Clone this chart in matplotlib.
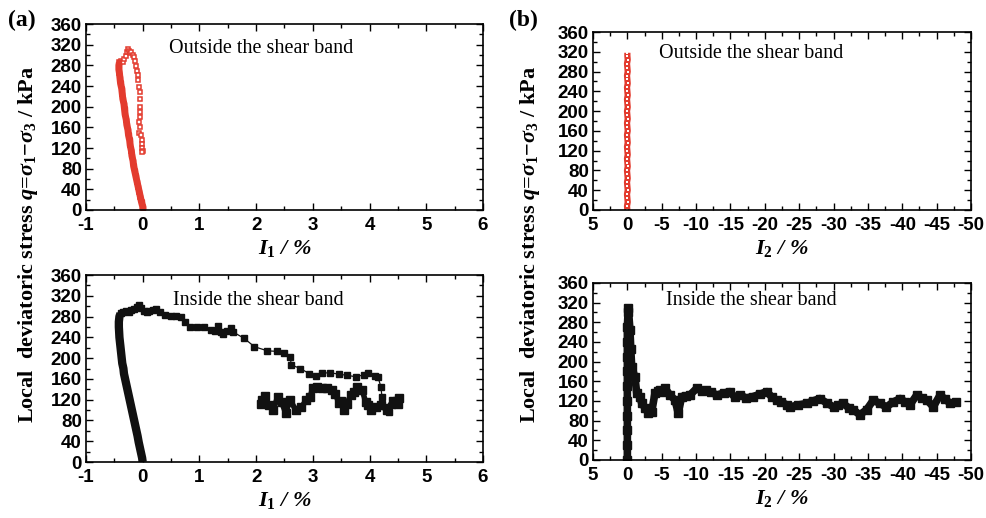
import numpy as np
import matplotlib.pyplot as plt
from matplotlib.ticker import MultipleLocator

plt.rcParams['mathtext.fontset'] = 'custom'
plt.rcParams['mathtext.rm'] = 'Liberation Serif:bold'
plt.rcParams['mathtext.it'] = 'Liberation Serif:italic:bold'
plt.rcParams['mathtext.bf'] = 'Liberation Serif:bold'
plt.rcParams['axes.unicode_minus'] = False

# --- data ---

# (a) outside the shear band, I1 (%) vs q (kPa)
out_i1 = [0.0, 0.005, -0.02, -0.04, -0.06, -0.08, -0.1, -0.12, -0.14, -0.16, -0.17, -0.19,
          -0.2, -0.22, -0.23, -0.25, -0.26, -0.28, -0.29, -0.31, -0.32, -0.33, -0.35, -0.36,
          -0.37, -0.39, -0.4, -0.41, -0.42, -0.42, -0.41, -0.38, -0.35, -0.33, -0.3, -0.28,
          -0.26, -0.24, -0.22, -0.2, -0.17, -0.15, -0.13, -0.12, -0.1, -0.09, -0.08, -0.06,
          -0.05, -0.04, -0.04, -0.05, -0.04, -0.06, -0.05, -0.06, -0.03, -0.02, -0.01, -0.02,
          0.0, -0.01]
out_q1 = [0, 5, 15, 25, 35, 45, 55, 65, 75, 85, 95, 105,
          115, 125, 135, 145, 155, 165, 175, 185, 195, 205, 215, 225,
          235, 245, 255, 265, 272, 280, 286, 288, 287, 292, 298, 305,
          312, 308, 303, 306, 300, 296, 288, 278, 270, 262, 252, 238,
          228, 215, 200, 190, 180, 170, 160, 150, 145, 135, 128, 120,
          115, 112]

# (a) inside the shear band
in_i1 = [0.0, -0.01, -0.03, -0.05, -0.07, -0.09, -0.11, -0.13, -0.15, -0.17, -0.19, -0.21,
         -0.23, -0.25, -0.27, -0.29, -0.31, -0.33, -0.34, -0.36, -0.37, -0.38, -0.39, -0.4,
         -0.41, -0.415, -0.42, -0.42, -0.41, -0.39, -0.35, -0.3, -0.25, -0.2, -0.15, -0.1,
         -0.07, -0.03, 0.02, 0.07, 0.12, 0.18, 0.24, 0.3, 0.39, 0.5, 0.59, 0.68,
         0.75, 0.83, 0.95, 1.09, 1.2, 1.28, 1.33, 1.38, 1.41, 1.48, 1.55, 1.6,
         1.79, 1.97, 2.2, 2.37, 2.5, 2.6, 2.62, 2.78, 2.94, 3.05, 3.17, 3.3,
         3.46, 3.6, 3.76, 3.9, 3.98, 4.1, 4.15, 4.2, 4.22, 4.29, 4.34, 4.4,
         4.46, 4.52, 4.5, 4.42, 4.3, 4.2, 4.11, 4.03, 3.98, 3.93, 3.87, 3.78,
         3.72, 3.67, 3.6, 3.55, 3.5, 3.46, 3.4, 3.34, 3.25, 3.17, 3.08, 3.0,
         2.95, 2.88, 2.8, 2.7, 2.6, 2.52, 2.45, 2.38, 2.3, 2.22, 2.15, 2.1, 2.08]
in_q1 = [0, 8, 18, 28, 38, 50, 60, 70, 80, 90, 100, 110,
         120, 130, 140, 150, 160, 170, 180, 190, 200, 210, 220, 230,
         240, 250, 260, 270, 280, 286, 288, 290, 289, 292, 295, 298,
         303, 296, 290, 288, 291, 293, 295, 288, 283, 281, 282, 279,
         270, 260, 259, 259, 254, 252, 262, 250, 247, 253, 258, 250,
         238, 222, 214, 213, 210, 203, 187, 180, 170, 166, 171, 172,
         169, 167, 164, 168, 171, 166, 163, 145, 125, 106, 97, 110,
         119, 123, 112, 118, 100, 110, 106, 100, 110, 116, 139, 145,
         135, 129, 112, 100, 118, 114, 130, 139, 142, 142, 145, 142,
         125, 119, 105, 100, 119, 95, 115, 125, 100, 110, 128, 120, 112]

# (b) outside the shear band, I2 (%) vs q (kPa)
out_i2 = [0.0, 0.05, -0.05, 0.0, 0.05, -0.05, 0.0, 0.05, -0.05, 0.0, 0.05, -0.05,
          0.0, 0.05, -0.05, 0.0, 0.05, -0.05, 0.0, 0.05, -0.05, 0.0, 0.05, -0.05,
          0.0, 0.05, -0.05, 0.0, 0.05, -0.05, 0.0, 0.05, -0.05, 0.0, 0.05, -0.05,
          0.0, 0.05, -0.05, 0.0, 0.0]
out_q2 = [0, 8, 16, 24, 32, 40, 48, 56, 64, 72, 80, 88,
          96, 104, 112, 120, 128, 136, 144, 152, 160, 168, 176, 184,
          192, 200, 208, 216, 224, 232, 240, 248, 256, 264, 272, 280,
          288, 296, 304, 312, 318]

# (b) inside the shear band
in_i2 = [0.0, 0.0, 0.0, 0.0, 0.0, 0.0, 0.0, 0.0, 0.0, 0.0, -0.1, -0.14,
         -0.38, -0.5, -0.63, -1.1, -1.36, -1.84, -2.09, -2.57, -3.05, -3.54, -4.02, -4.4,
         -4.75, -5.1, -5.48, -6.2, -6.93, -7.41, -7.9, -8.5, -9.1, -10.1, -10.8, -11.5,
         -12.2, -13.0, -14.0, -14.9, -15.6, -16.4, -17.3, -18.3, -19.3, -20.3, -21.0, -21.7,
         -22.4, -23.2, -23.7, -24.9, -26.1, -27.0, -28.0, -29.0, -30.0, -30.7, -31.4, -32.2,
         -32.9, -33.8, -34.8, -35.8, -36.7, -37.7, -38.7, -39.7, -40.4, -41.1, -42.1, -42.9,
         -43.6, -44.5, -45.5, -46.2, -47.0, -47.8]
in_q2 = [0, 30, 60, 90, 120, 150, 180, 210, 240, 270, 300, 309,
         264, 225, 190, 169, 136, 129, 115, 106, 95, 98, 136, 140,
         142, 138, 146, 132, 122, 95, 129, 130, 132, 146, 140, 142,
         138, 132, 136, 139, 128, 132, 126, 129, 134, 139, 128, 122,
         118, 112, 108, 112, 115, 120, 125, 116, 108, 112, 115, 106,
         102, 92, 102, 122, 115, 108, 118, 125, 118, 112, 132, 126,
         122, 108, 132, 124, 115, 117]

red = '#e33b2e'
blk = '#111111'


# --- figure ---

fig = plt.figure(figsize=(9.87, 5.18), dpi=100)

ax_tl = fig.add_axes([0.0871, 0.5946, 0.4022, 0.359])
ax_bl = fig.add_axes([0.0871, 0.1081, 0.4022, 0.361])
ax_tr = fig.add_axes([0.6008, 0.5946, 0.383, 0.3436])
ax_br = fig.add_axes([0.6008, 0.112, 0.383, 0.3417])

# outside, I1: dense loading branch then open squares
ax_tl.plot(out_i1[:31], out_q1[:31], color=red, lw=5, solid_capstyle='butt')
ax_tl.plot(out_i1, out_q1, color=red, lw=1.2, ls='none', marker='s', ms=3.5,
           mfc='white', mec=red, mew=1.1)
ax_tl.plot(out_i1[:31], out_q1[:31], color=red, lw=0, marker='s', ms=3.5, mfc=red, mec=red)

# inside, I1
ax_bl.plot(in_i1[:30], in_q1[:30], color=blk, lw=6, solid_capstyle='butt')
ax_bl.plot(in_i1[29:86], in_q1[29:86], color=blk, lw=0.9, marker='s', ms=4.5, mfc=blk, mec=blk)
ax_bl.plot(in_i1[85:], in_q1[85:], color=blk, lw=4, marker='s', ms=6, mfc=blk, mec=blk)

# outside, I2
ax_tr.plot(out_i2, out_q2, color=red, lw=4.5, solid_capstyle='butt')
ax_tr.plot(out_i2, out_q2, color=red, lw=0, marker='s', ms=2, mfc='white', mec='white', mew=0)

# inside, I2
ax_br.plot(in_i2, in_q2, color=blk, lw=5.5, marker='s', ms=5.5, mfc=blk, mec=blk,
           solid_joinstyle='round')

for ax in [ax_tl, ax_bl]:
    ax.set_xlim(-1, 6)
    ax.xaxis.set_major_locator(MultipleLocator(1))
    ax.xaxis.set_minor_locator(MultipleLocator(0.5))
    ax.set_xlabel(r'$I_1$ / %', fontsize=16, family='Liberation Serif',
                  fontweight='bold', fontstyle='italic', labelpad=3)

for ax in [ax_tr, ax_br]:
    ax.set_xlim(5, -50)
    ax.xaxis.set_major_locator(MultipleLocator(5))
    ax.xaxis.set_minor_locator(MultipleLocator(2.5))
    ax.set_xlabel(r'$I_2$ / %', fontsize=16, family='Liberation Serif',
                  fontweight='bold', fontstyle='italic', labelpad=3)

for ax in [ax_tl, ax_bl, ax_tr, ax_br]:
    ax.set_ylim(0, 360)
    ax.yaxis.set_major_locator(MultipleLocator(40))
    ax.yaxis.set_minor_locator(MultipleLocator(20))
    ax.tick_params(which='both', direction='in', top=True, right=True, width=1.0)
    ax.tick_params(which='major', length=5, labelsize=13.5)
    ax.tick_params(axis='x', which='major', pad=5)
    ax.tick_params(axis='y', which='major', pad=3)
    ax.tick_params(which='minor', length=3)
    for lab in ax.get_xticklabels() + ax.get_yticklabels():
        lab.set_family('Liberation Sans')
        lab.set_fontweight('bold')
    for s in ax.spines.values():
        s.set_linewidth(1.2)

txt = dict(fontsize=14.5, family='Liberation Serif', va='center', ha='left')
ax_tl.text(0.21, 0.866, 'Outside the shear band', transform=ax_tl.transAxes, **txt)
ax_bl.text(0.22, 0.866, 'Inside the shear band', transform=ax_bl.transAxes, **txt)
ax_tr.text(0.175, 0.88, 'Outside the shear band', transform=ax_tr.transAxes, **txt)
ax_br.text(0.193, 0.9, 'Inside the shear band', transform=ax_br.transAxes, **txt)

ylab = r'Local  deviatoric stress $q$=$\sigma_1$$-$$\sigma_3$ / kPa'
fig.text(0.028, 0.527, ylab, rotation=90, ha='center', va='center',
         fontsize=16, family='Liberation Serif', fontweight='bold')
fig.text(0.537, 0.527, ylab, rotation=90, ha='center', va='center',
         fontsize=16, family='Liberation Serif', fontweight='bold')

fig.text(0.008, 0.96, '(a)', fontsize=17, family='Liberation Serif', fontweight='bold', va='center')
fig.text(0.516, 0.96, '(b)', fontsize=17, family='Liberation Serif', fontweight='bold', va='center')

fig.savefig('out.png', dpi=100)
